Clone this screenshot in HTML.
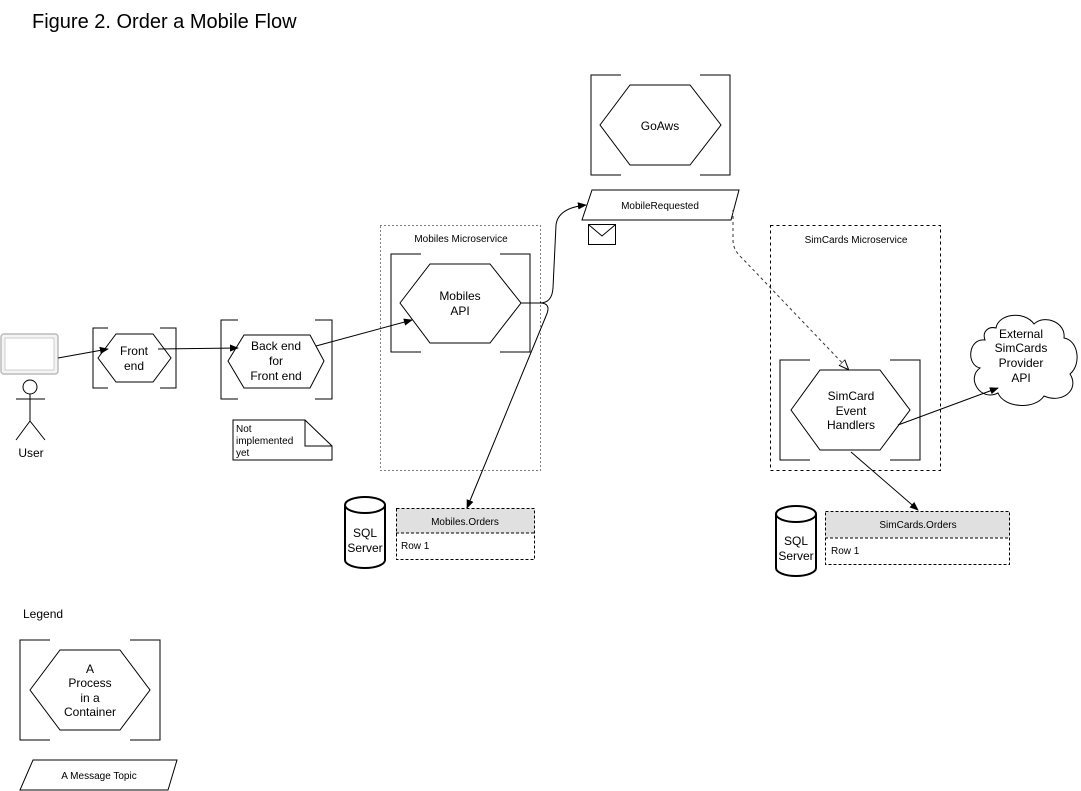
<!DOCTYPE html>
<html><head><meta charset="utf-8"><style>html,body{margin:0;padding:0;background:#fff;}svg{display:block}text{font-family:"Liberation Sans",Arial,sans-serif;fill:#000}</style></head>
<body>
<svg width="1081" height="791" viewBox="0 0 1081 791" xmlns="http://www.w3.org/2000/svg">
<defs>
<marker id="a" viewBox="0 0 10 10" refX="9" refY="5" markerWidth="9" markerHeight="9" orient="auto" markerUnits="userSpaceOnUse"><path d="M0,1 L10,5 L0,9 Z" fill="#000"/></marker>
<marker id="h" viewBox="0 0 10 10" refX="9" refY="5" markerWidth="10" markerHeight="10" orient="auto" markerUnits="userSpaceOnUse"><path d="M0,1 L10,5 L0,9 Z" fill="#fff" stroke="#000"/></marker>
</defs>
<text x="32" y="28" font-size="20">Figure 2. Order a Mobile Flow</text>

<rect x="1" y="334" width="57" height="40" rx="3" fill="#f4f4f4" stroke="#bbb" stroke-width="1.5"/>
<rect x="5" y="338" width="49" height="32" fill="#fff" stroke="#ccc"/>
<g stroke="#000" fill="none"><circle cx="30" cy="387" r="7" fill="#fff"/><path d="M30 394V421M16 399H45M30 421L16 440M30 421L45 440"/></g>
<text x="31" y="457" font-size="12" text-anchor="middle">User</text>

<g fill="none" stroke="#000" stroke-width="1">
<path d="M108 328H93V388H108M160 328H176V388H160"/>
<path d="M238 320H221V399H238M315 320H332V399H315"/>
<path d="M421 254H391V352H421M500 254H530V352H500"/>
<path d="M621 75H591V175H621M700 75H730V175H700"/>
<path d="M810 360H780V460H810M890 360H920V460H890"/>
<path d="M50 640H20V740H50M130 640H160V740H130"/>
<path d="M98 358L116 334H153L171 358L153 382H116Z" fill="#fff"/>
<path d="M228 361L244 335H310L324 361L310 388H244Z" fill="#fff"/>
<path d="M400 303L430 264H490L521 303L490 343H430Z" fill="#fff"/>
<path d="M600 125L630 85H690L721 125L690 165H630Z" fill="#fff"/>
<path d="M791 410L820 370H880L910 410L880 450H820Z" fill="#fff"/>
<path d="M30 690L60 650H120L150 690L120 730H60Z" fill="#fff"/>
<rect x="380.5" y="225.5" width="160" height="245" stroke-dasharray="1,3"/>
<rect x="770.5" y="225.5" width="170" height="245" stroke-dasharray="3,3"/>
<path d="M233 420H305L332 446V460H233Z"/><path d="M305 420V446H332"/>
<path d="M592 190H739L731 220H582Z" fill="#fff"/>
<rect x="588.5" y="224.5" width="27" height="20"/><path d="M589 225L602 236L615 225"/>
<path d="M33 760H177L168 790H20Z"/>
<g stroke-width="2">
<path d="M345 505V560A20 8 0 0 0 385 560V505"/><ellipse cx="365" cy="505" rx="20" ry="8"/>
<path d="M776 514V568A20 8 0 0 0 816 568V514"/><ellipse cx="796" cy="514" rx="20" ry="8"/>
</g>
<rect x="396.5" y="508.5" width="138" height="25" fill="#e0e0e0" stroke="none"/>
<rect x="396.5" y="508.5" width="138" height="51" stroke-dasharray="3,2"/><path d="M396 533H535" stroke-dasharray="3,2"/>
<rect x="825.5" y="511.5" width="184" height="26" fill="#e0e0e0" stroke="none"/>
<rect x="825.5" y="511.5" width="184" height="53" stroke-dasharray="3,2"/><path d="M825 538H1010" stroke-dasharray="3,2"/>
<path d="M985 340C968 338 966 365 980 368C966 378 980 402 998 393C1004 408 1035 410 1044 396C1062 404 1080 390 1070 374C1082 364 1078 340 1064 338C1066 322 1044 314 1034 324C1024 310 998 314 996 328C988 326 982 332 985 340Z" fill="#fff"/>
<path d="M58 358L108 349" marker-end="url(#a)"/>
<path d="M158 349L238 348" marker-end="url(#a)"/>
<path d="M316 346L412 320" marker-end="url(#a)"/>
<path d="M521 303H540Q552 303 553 288L556 225Q558 208 586 205" marker-end="url(#a)"/>
<path d="M540 303Q552 303 546 316L467 508" marker-end="url(#a)"/>
<path d="M733 210V240Q733 250 742 258L848 369" stroke-dasharray="3,3" stroke="#333" marker-end="url(#h)"/>
<path d="M898 425L998 388" marker-end="url(#a)"/>
<path d="M851 452L918 510" marker-end="url(#a)"/>
</g>

<g font-size="12" text-anchor="middle">
<text x="134" y="355">Front</text><text x="134" y="370">end</text>
<text x="276" y="350">Back end</text><text x="276" y="365">for</text><text x="276" y="380">Front end</text>
<text x="460" y="300">Mobiles</text><text x="460" y="315">API</text>
<text x="660" y="130">GoAws</text>
<text x="851" y="400">SimCard</text><text x="851" y="415">Event</text><text x="851" y="429">Handlers</text>
<text x="1021" y="338">External</text><text x="1021" y="352">SimCards</text><text x="1021" y="367">Provider</text><text x="1021" y="382">API</text>
<text x="365" y="537">SQL</text><text x="365" y="552">Server</text>
<text x="796" y="545">SQL</text><text x="796" y="560">Server</text>
<text x="90" y="673">A</text><text x="90" y="687">Process</text><text x="90" y="702">in a</text><text x="90" y="716">Container</text>
</g>
<g font-size="10" text-anchor="middle">
<text x="461" y="242">Mobiles Microservice</text>
<text x="856" y="243">SimCards Microservice</text>
<text x="660" y="209">MobileRequested</text>
<text x="465" y="525">Mobiles.Orders</text>
<text x="918" y="528">SimCards.Orders</text>
<text x="99" y="779">A Message Topic</text>
</g>
<g font-size="10">
<text x="236" y="432">Not</text><text x="236" y="444">implemented</text><text x="236" y="456">yet</text>
<text x="401" y="549">Row 1</text>
<text x="831" y="554">Row 1</text>
</g>
<text x="23" y="618" font-size="12">Legend</text>
</svg>
</body></html>
